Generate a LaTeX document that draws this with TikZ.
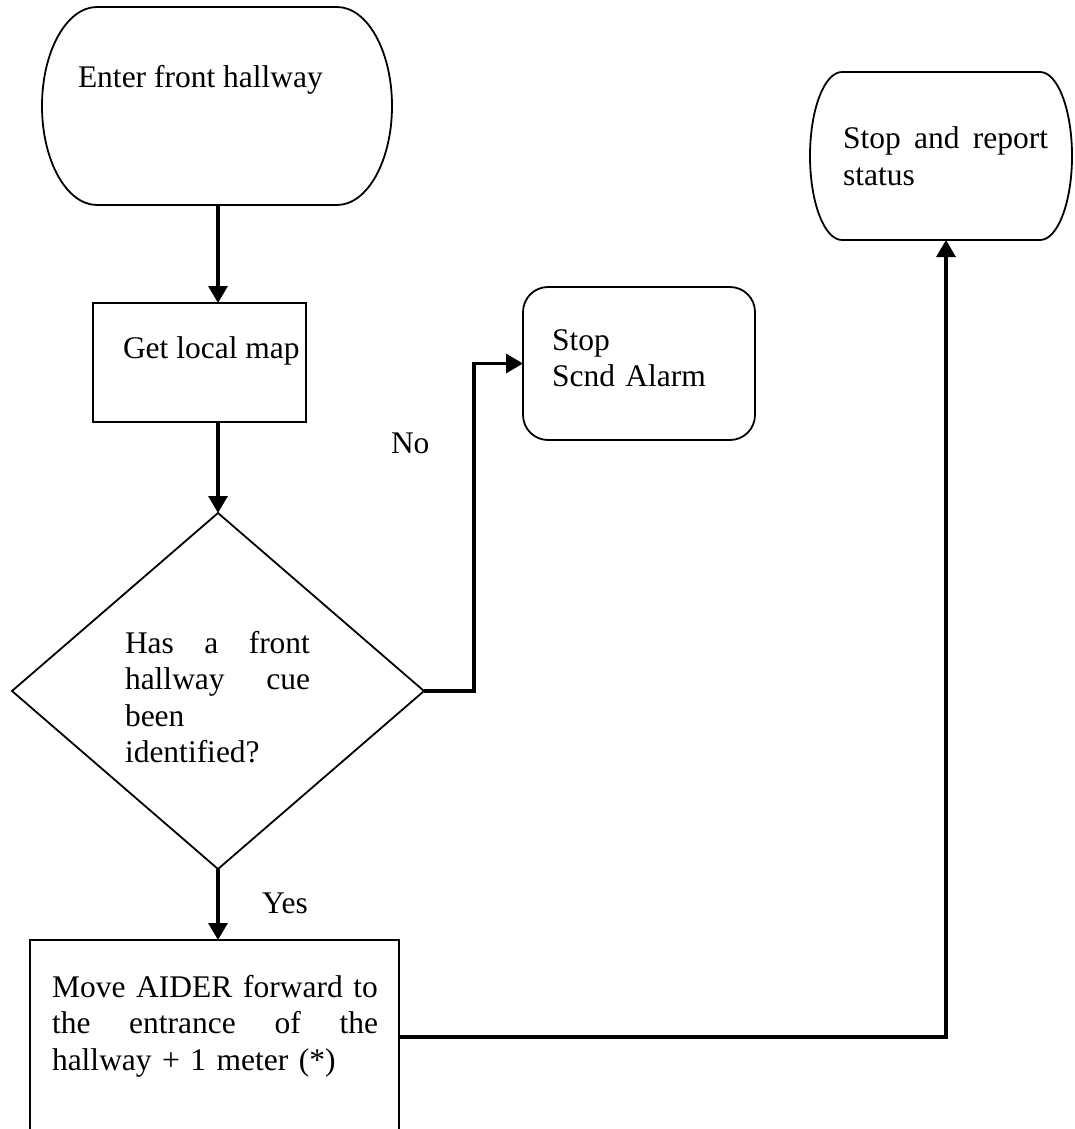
\documentclass[tikz,border=0pt]{standalone}
\usepackage{fontspec}
\setmainfont{Liberation Serif}
\usetikzlibrary{arrows.meta,shapes.geometric}
\begin{document}
\begin{tikzpicture}[x=1pt,y=-1pt,
  shapeline/.style={draw=black,line width=1.8pt},
  box/.style={shapeline,rectangle,inner sep=0pt,outer sep=0pt},
  spot/.style={draw=none,rectangle,inner sep=0pt,outer sep=0pt},
  flow/.style={draw=black,line width=3.2pt,-{Triangle[length=17pt,width=19pt]}},
  txt/.style={font=\fontsize{31.5}{36.5}\selectfont,inner sep=0pt,outer sep=0pt,anchor=base west,align=left}]
  % canvas
  \clip (0,0) rectangle (1075,1129);
  \fill[white] (0,0) rectangle (1075,1129);

  % start terminator
  \draw[shapeline] (97,7) -- (337,7)
    arc[start angle=-90,end angle=90,x radius=55,y radius=99] -- (97,205)
    arc[start angle=90,end angle=270,x radius=55,y radius=99] -- cycle;
  \node[spot,minimum width=350pt,minimum height=198pt] (enter) at (218,106) {};

  % end terminator
  \draw[shapeline] (842,72) -- (1040,72)
    arc[start angle=-90,end angle=90,x radius=32,y radius=84] -- (842,240)
    arc[start angle=90,end angle=270,x radius=32,y radius=84] -- cycle;
  \node[spot,minimum width=262pt,minimum height=168pt] (stop) at (946,156) {};

  % process boxes and decision
  \node[box,minimum width=213pt,minimum height=119pt] (getmap) at (199.5,362.5) {};
  \node[box,rounded corners=25pt,minimum width=232pt,minimum height=153pt] (alarm) at (639,363.5) {};
  \node[shapeline,diamond,inner sep=0pt,outer sep=0pt,minimum width=412pt,minimum height=356pt] (decision) at (218,691) {};
  \node[box,minimum width=369pt,minimum height=194pt] (move) at (214.5,1037) {};

  % texts
  \node[txt] (t-enter) at (78,88) {Enter front hallway};
  \node[txt] (t-map) at (123,358) {Get local map};
  \node[txt,text width=210pt] (t-alarm) at (552,350) {Stop\\Scnd Alarm};
  \node[txt,text width=185pt] (t-q) at (125,653) {Has\hfill a\hfill front\\hallway\hfill cue\\been\\identified?};
  \node[txt,text width=326pt] (t-move) at (52,997) {Move\hfill AIDER\hfill forward\hfill to\\the\hfill entrance\hfill of\hfill the\\hallway + 1 meter (*)};
  \node[txt,text width=205pt] (t-stop) at (843,149) {Stop\hfill and\hfill report\\status};
  \node[txt] (no) at (391,453) {No};
  \node[txt] (yes) at (262,913) {Yes};

  % connectors
  \draw[flow] (enter.south) -- (enter.south |- getmap.north);
  \draw[flow] (decision.north |- getmap.south) -- (decision.north);
  \draw[flow] (decision.east) -- ++(50,0) |- (alarm.west);
  \draw[flow] (decision.south) -- (decision.south |- move.north);
  \draw[flow] (move.east) -| (stop.south);
\end{tikzpicture}
\end{document}
